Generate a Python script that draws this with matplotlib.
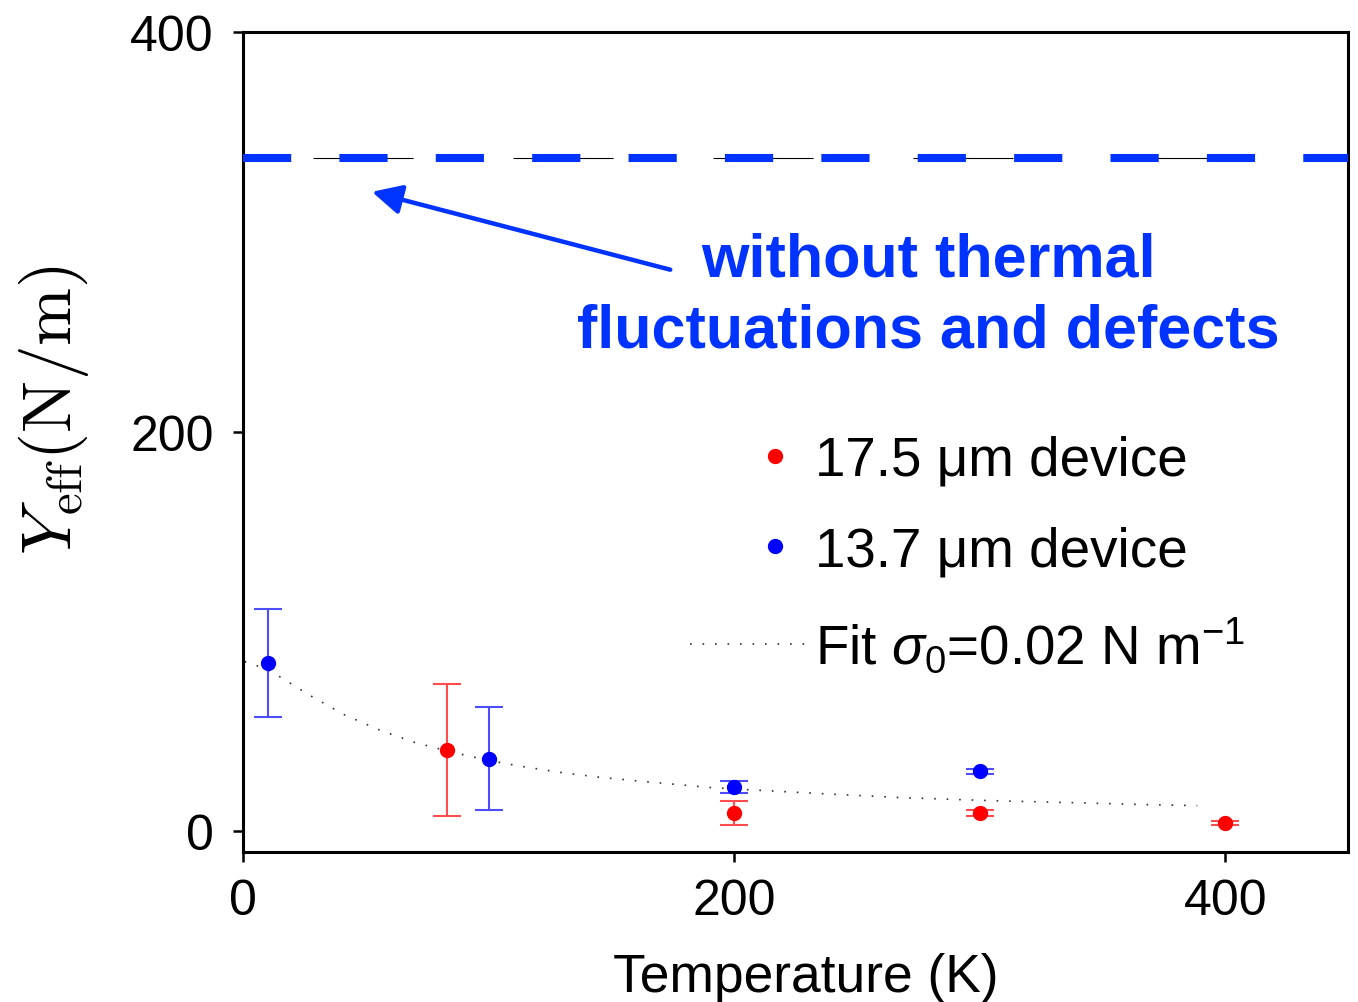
import numpy as np
import matplotlib
matplotlib.use("Agg")
import matplotlib.pyplot as plt
from matplotlib.lines import Line2D
from matplotlib.legend_handler import HandlerLine2D

plt.rcParams["font.family"] = ["Liberation Sans", "DejaVu Sans"]
plt.rcParams["mathtext.fontset"] = "custom"
plt.rcParams["mathtext.rm"] = "Liberation Sans"
plt.rcParams["mathtext.it"] = "Liberation Sans:italic"
plt.rcParams["lines.scale_dashes"] = False

# measured Young's modulus vs temperature
T_red = [83, 200, 300, 400]
Y_red = [40.5, 8.8, 9.0, 3.8]
err_red = [33, 6, 1.5, 1.0]

T_blue = [10, 100, 200, 300]
Y_blue = [84, 36.3, 22.2, 29.8]
err_blue = [27, 26, 3, 1.5]

# fit curve (sigma_0 = 0.02 N/m)
fit_T = [0.7, 5.8, 15.0, 28.1, 41.3, 55.3, 69.5, 84.4, 99.2, 114.3, 129.5,
         144.6, 159.7, 174.9, 190.1, 205.3, 236.0, 266.6, 302.0, 337.7,
         368.2, 388.6]
fit_Y = [84.8, 82.7, 77.2, 67.3, 58.2, 50.7, 44.5, 39.7, 35.5, 32.2, 29.3,
         27.0, 25.2, 23.5, 21.8, 20.7, 18.7, 16.8, 15.3, 14.2, 13.2, 12.7]

# ideal value without thermal fluctuations and defects
Y_ideal = 337

ann_tail = (174, 281)
ann_head = (52.5, 320)

blue_dash = "#0033ff"
fit_style = (0, (1.2, 7.8))

fig = plt.figure(figsize=(13.58, 10.03), dpi=100)
ax = fig.add_axes([243 / 1358, 150 / 1003, 1105 / 1358, 820 / 1003])

ax.axhline(Y_ideal, color="black", lw=0.8, ls=(93.6, (72, 72)), zorder=2)
ax.axhline(Y_ideal, color=blue_dash, lw=5.8, ls=(0, (34.7, 34.7)), zorder=3)

ax.plot(fit_T, fit_Y, color="#333333", lw=1.2, ls=fit_style, zorder=2)

ax.errorbar(T_red, Y_red, yerr=err_red, fmt="o", color="red", ms=10,
            ecolor=(1, 0.3, 0.3), elinewidth=1.5, capsize=10, capthick=1.5,
            zorder=4)
ax.errorbar(T_blue, Y_blue, yerr=err_blue, fmt="o", color="blue", ms=10,
            ecolor=(0.3, 0.3, 1), elinewidth=1.5, capsize=10, capthick=1.5,
            zorder=4)

ax.annotate("", xy=ann_head, xytext=ann_tail,
            arrowprops=dict(arrowstyle="-|>", lw=3.2, color=blue_dash,
                            mutation_scale=45, shrinkA=0, shrinkB=0))
ax.text(279, 268, "without thermal\nfluctuations and defects", color=blue_dash,
        fontsize=44, fontweight="bold", ha="center", va="center",
        linespacing=1.33)

ax.set_xlim(0, 450)
ax.set_ylim(-10.5, 400)
ax.set_xticks([0, 200, 400])
ax.set_yticks([0, 200, 400])
ax.tick_params(direction="out", length=7, width=1.8, labelsize=36, pad=14)
ax.tick_params(axis="x", pad=12)
for s in ax.spines.values():
    s.set_linewidth(2.2)

ax.set_xlabel("Temperature (K)", fontsize=38.4, labelpad=20)
ax.xaxis.label.set_x(0.509)
ylab = ax.set_ylabel(r"$Y_{\rm eff}(\rm N/m)$", fontsize=50)
ylab.set_math_fontfamily("cm")
ax.yaxis.set_label_coords(-0.138, 0.54)


class MarkerRight(HandlerLine2D):
    # single legend marker sits near the right end of the handle
    def get_xdata(self, legend, xdescent, ydescent, width, height, fontsize):
        xd, xm = super().get_xdata(legend, xdescent, ydescent, width, height, fontsize)
        return np.array([-xdescent + 0.48 * width, -xdescent + width]), xm


h_red = Line2D([], [], color="red", marker="o", ms=10, ls="none")
h_blue = Line2D([], [], color="blue", marker="o", ms=10, ls="none")
h_fit = Line2D([], [], color="#333333", lw=1.2, ls=fit_style)
leg = ax.legend([h_red, h_blue, h_fit],
                ["17.5 μm device", "13.7 μm device",
                 r"Fit $\sigma_0$=0.02 N m$^{-1}$"],
                loc="upper left", bbox_to_anchor=(690 / 1358, 1 - 436 / 1003),
                bbox_transform=fig.transFigure, frameon=False, fontsize=39.4,
                handlelength=2.1, handletextpad=0.19, labelspacing=0.7,
                borderpad=0, borderaxespad=0,
                handler_map={h_red: MarkerRight(numpoints=1),
                             h_blue: MarkerRight(numpoints=1)})

fig.savefig("out.png", dpi=100)
